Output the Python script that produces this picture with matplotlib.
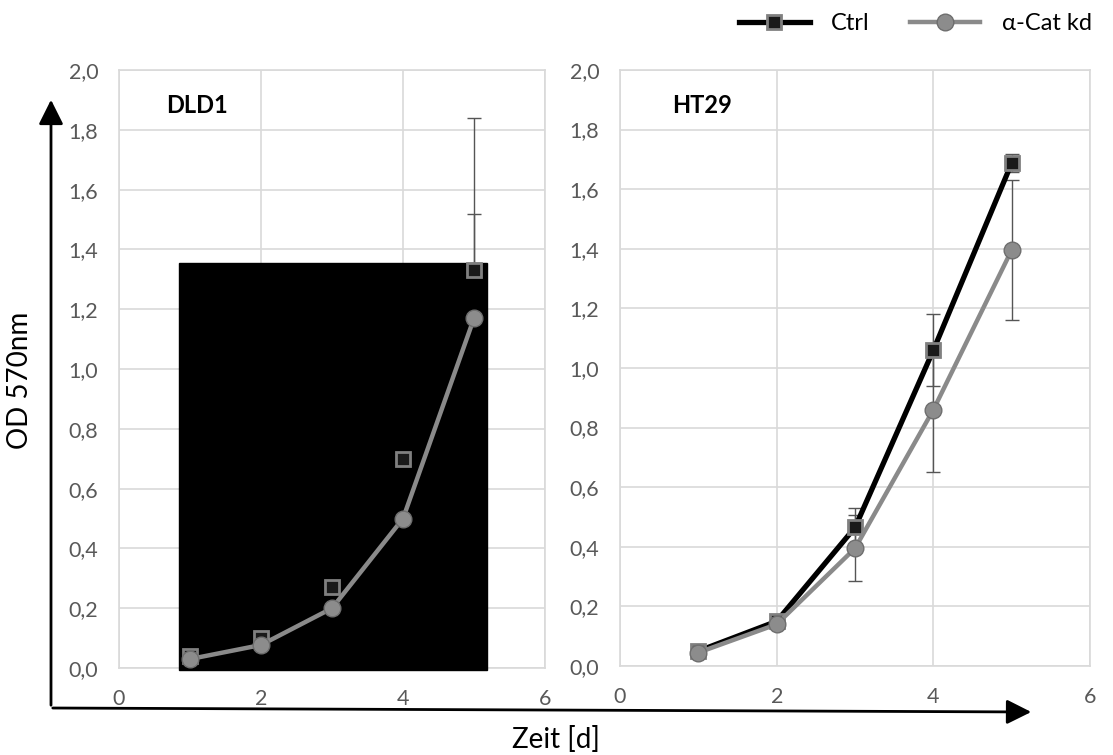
import numpy as np
import matplotlib
matplotlib.use("Agg")
import matplotlib.pyplot as plt
from matplotlib.patches import Rectangle, FancyArrowPatch
from matplotlib.lines import Line2D
from matplotlib.ticker import FuncFormatter

plt.rcParams['font.family'] = ['Lato', 'DejaVu Sans']

days = [1, 2, 3, 4, 5]

# DLD1
dld1_ctrl = [0.04, 0.10, 0.27, 0.70, 1.33]
dld1_ctrl_err = [0.01, 0.01, 0.02, 0.05, 0.51]
dld1_kd = [0.03, 0.077, 0.20, 0.50, 1.17]
dld1_kd_err = [0.01, 0.01, 0.02, 0.05, 0.35]

# HT29
ht29_ctrl = [0.05, 0.15, 0.465, 1.06, 1.688]
ht29_ctrl_err = [0.01, 0.01, 0.065, 0.12, 0.03]
ht29_kd = [0.045, 0.14, 0.395, 0.86, 1.396]
ht29_kd_err = [0.01, 0.01, 0.11, 0.21, 0.236]

# black box sitting over the DLD1 plot in the original
mask_x = (0.845, 5.18)
mask_y = (-0.007, 1.354)

labels = ['Ctrl', 'α-Cat kd']

fig = plt.figure(figsize=(11.13, 7.55), dpi=100)
ax1 = fig.add_axes([0.1069, 0.1152, 0.3828, 0.7921])
ax2 = fig.add_axes([0.5571, 0.1179, 0.4223, 0.7894])

grid_c = '#d9d9d9'
tick_c = '#595959'
ctrl_style = dict(color='black', lw=3.8, marker='s', ms=10, mfc='#1a1a1a',
                  mec='#808080', mew=2, zorder=3)
kd_style = dict(color='#8a8a8a', lw=3.2, marker='o', ms=12, mfc='#8c8c8c',
                mec='#6e6e6e', mew=1, zorder=4)
err_style = dict(fmt='none', ecolor='#555555', elinewidth=1, capsize=5,
                 capthick=1, zorder=1.5)

for ax, ctrl, ce, kd, ke, name in [
        (ax1, dld1_ctrl, dld1_ctrl_err, dld1_kd, dld1_kd_err, 'DLD1'),
        (ax2, ht29_ctrl, ht29_ctrl_err, ht29_kd, ht29_kd_err, 'HT29')]:
    ax.errorbar(days, ctrl, yerr=ce, **err_style)
    ax.errorbar(days, kd, yerr=ke, **err_style)
    ax.plot(days, ctrl, **ctrl_style)
    ax.plot(days, kd, **kd_style)
    ax.set_xlim(0, 6)
    ax.set_ylim(0, 2.0)
    ax.set_xticks([0, 2, 4, 6])
    ax.set_yticks(np.arange(0, 2.01, 0.2))
    ax.yaxis.set_major_formatter(FuncFormatter(lambda v, p: f'{v:.1f}'.replace('.', ',')))
    ax.grid(True, color=grid_c, lw=1.2)
    ax.set_axisbelow(True)
    for s in ax.spines.values():
        s.set_color(grid_c)
        s.set_linewidth(1.2)
    ax.tick_params(length=0, labelsize=15.5, colors=tick_c)
    ax.tick_params(axis='y', pad=15)
    ax.tick_params(axis='x', pad=15)
    ax.text(0.11, 0.94, name, transform=ax.transAxes, fontsize=17,
            fontweight='bold', va='center', ha='left')

ax1.add_patch(Rectangle((mask_x[0], mask_y[0]), mask_x[1] - mask_x[0],
                        mask_y[1] - mask_y[0], color='black', zorder=2.6,
                        clip_on=False))

# axis arrows in figure pixels
W, H = 1113, 755
def fp(x, y):
    return (x / W, 1 - y / H)

fig.add_artist(FancyArrowPatch(
    fp(51, 708), fp(51, 97), transform=fig.transFigure,
    arrowstyle='-|>,head_length=10,head_width=5', mutation_scale=1.5,
    color='black', lw=2))
fig.add_artist(FancyArrowPatch(
    fp(50, 708), fp(1034, 712), transform=fig.transFigure,
    arrowstyle='-|>,head_length=10,head_width=5', mutation_scale=1.5,
    color='black', lw=2))

fig.text(20 / W, 1 - 380 / H, 'OD 570nm', rotation=90, fontsize=20,
         va='center', ha='center')
fig.text(556 / W, 1 - 739 / H, 'Zeit [d]', fontsize=20, va='center',
         ha='center')

handles = [Line2D([], [], **ctrl_style), Line2D([], [], **kd_style)]
fig.legend(handles, labels, loc='center right', bbox_to_anchor=(1.0, 1 - 24 / H),
           ncol=2, frameon=False, fontsize=17, handlelength=3.0,
           columnspacing=1.7, handletextpad=0.9)

fig.savefig('out.png', dpi=100)
